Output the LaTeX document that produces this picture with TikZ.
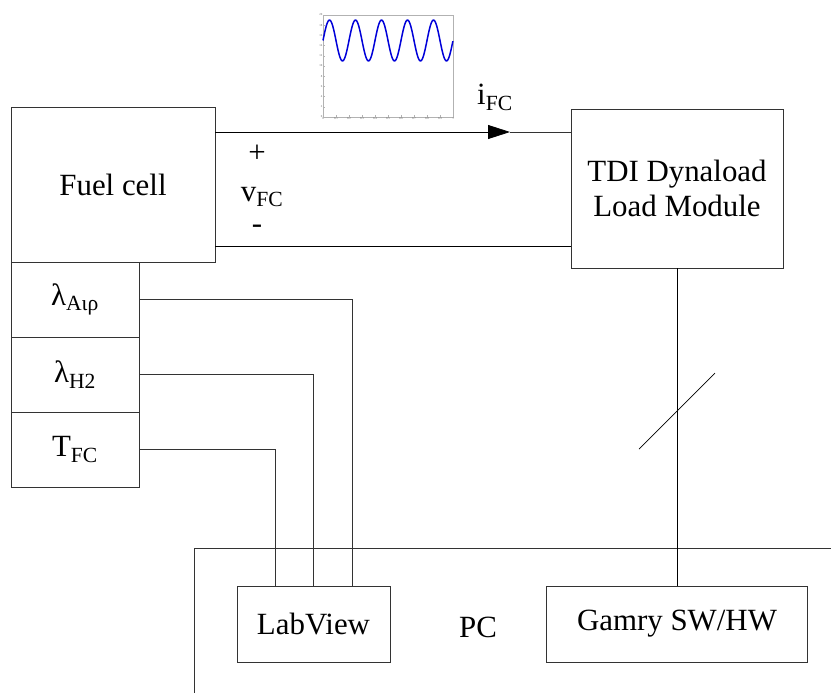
\documentclass[tikz,border=0pt]{standalone}
\usepackage{fontspec}
\setmainfont{Liberation Serif}
\usetikzlibrary{arrows.meta,calc}

\tikzset{
  box/.style={draw=black!80, line width=0.8bp, inner sep=0pt, align=center, font=\fontsize{31}{35}\selectfont},
  wire/.style={draw=black!80, line width=0.8bp},
  lbl/.style={inner sep=0pt, font=\fontsize{31}{35}\selectfont},
  plotaxis/.style={draw=black!30, line width=0.4bp},
  ticklbl/.style={inner sep=0.5bp, text=black!60, font=\fontsize{3}{3}\selectfont}
}

\begin{document}
\begin{tikzpicture}[x=1bp,y=-1bp]
\useasboundingbox (0,0) rectangle (831,693);
% fuel cell with its measured quantities
\node[box, minimum width=204bp, minimum height=155bp] (fc) at (113,184.5) {Fuel cell};
\node[box, minimum width=128bp, minimum height=75bp] (lair) at (75,299.5) {λ\textsubscript{Aιρ}};
\node[box, minimum width=128bp, minimum height=75bp] (lh2) at (75,374.5) {λ\textsubscript{H2}};
\node[box, minimum width=128bp, minimum height=75bp] (tfc) at (75,449.5) {T\textsubscript{FC}};
% load and PC side
\node[box, minimum width=212bp, minimum height=159bp] (load) at (677,188.5) {TDI Dynaload\\Load Module};
\node[box, minimum width=153bp, minimum height=76bp] (lv) at (313.5,624) {LabView};
\node[box, minimum width=261bp, minimum height=76bp] (gamry) at (677,624) {Gamry SW/HW};
\node[lbl] (pc) at (478,627) {PC};
\draw[wire] (194,693) |- (831,548);
% power lines
\coordinate (itip) at (510,132);
\coordinate (vneg) at (400,246);
\draw[black, line width=0.8bp, -{Triangle[length=22bp,width=14bp]}] (fc.east |- itip) -- (itip);
\draw[wire] (itip) -- (itip -| load.west);
\draw[black, line width=0.8bp] (fc.east |- vneg) -- (vneg -| load.west);
\node[lbl] (ifc) at (495,97) {i\textsubscript{FC}};
\node[lbl] (plus) at (257,154) {+};
\node[lbl] (vfc) at (262,197) {v\textsubscript{FC}};
\node[lbl] (minus) at (257,229) {-};
% measurement lines
\draw[wire] (lair.east) -| ($(lv.north west)!0.75!(lv.north east)$);
\draw[wire] (lh2.east) -| ($(lv.north west)!0.5!(lv.north east)$);
\draw[wire] (tfc.east) -| ($(lv.north west)!0.25!(lv.north east)$);
\draw[black, line width=0.8bp] (load.south) -- (gamry.north);
\coordinate (cut) at ($(load.south)!0.45!(gamry.north)$);
\draw[black, line width=0.6bp] ($(cut)+(-38,38)$) -- ($(cut)+(38,-38)$);
% current waveform
\draw[plotaxis] (323,15) rectangle (453,117);
\foreach \k/\t in {0/0,1/0.1,2/0.2,3/0.3,4/0.4,5/0.5,6/0.6,7/0.7,8/0.8,9/0.9,10/1} {
  \draw[plotaxis] ({323+13*\k},117) -- ++(0,-1.5);
  \node[ticklbl, below] at ({323+13*\k},117) {\t};
}
\foreach \v in {0,2,...,20} {
  \draw[plotaxis] (323,{117-5.1*\v}) -- ++(1.5,0);
  \node[ticklbl, left] at (323,{117-5.1*\v}) {\v};
}
\draw[blue!85!black, line width=1.5bp, domain=0:1, samples=200, smooth] plot ({323+130*\x}, {117-5.1*(15+4*sin(1800*\x))});
\end{tikzpicture}
\end{document}
